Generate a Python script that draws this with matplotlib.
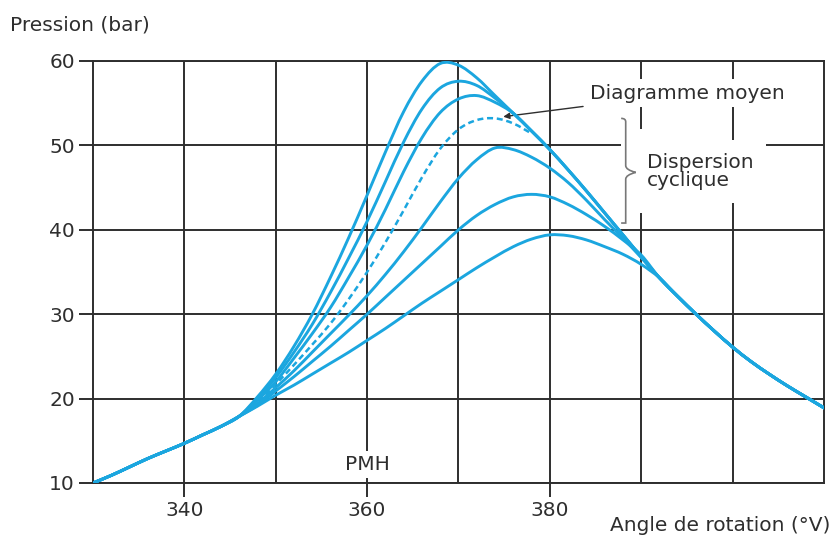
"""Cylinder pressure vs crank angle: cyclic dispersion around the mean diagram."""
import matplotlib
matplotlib.use("Agg")
import matplotlib.pyplot as plt
from matplotlib.path import Path
from matplotlib.patches import PathPatch, Rectangle

plt.rcParams["font.family"] = ["DejaVu Sans"]

# shared compression part (all cycles identical)
rise_x = [330, 332, 334, 336, 338, 340, 342, 344, 346]
rise_y = [10.0, 10.9, 11.9, 12.9, 13.8, 14.7, 15.7, 16.7, 17.9]

# combustion part, one series per cycle
fan_x = [348, 350, 352, 354, 356, 358, 360, 362, 364, 366, 368, 370,
         372, 374, 376, 378, 380, 382, 384, 386, 388, 390]
cycle_1 = [20.2, 22.9, 26.2, 30.0, 34.4, 39.1, 44.1, 49.2, 54.0, 57.6, 59.7, 59.5,
           58.0, 55.9, 53.8, 51.7, 49.5, 47.1, 44.6, 42.0, 39.4, 36.8]
cycle_2 = [20.0, 22.5, 25.5, 28.8, 32.6, 36.7, 41.0, 45.7, 50.4, 54.3, 56.8, 57.6,
           57.1, 55.6, 53.8, 51.7, 49.5, 47.1, 44.6, 42.0, 39.4, 36.8]
cycle_3 = [19.8, 22.0, 24.8, 27.7, 30.8, 34.4, 38.2, 42.4, 46.9, 50.9, 53.9, 55.5,
           55.9, 55.1, 53.8, 51.7, 49.5, 47.1, 44.6, 42.0, 39.4, 36.8]
mean_cycle = [19.6, 21.7, 24.0, 26.4, 28.9, 31.8, 35.0, 38.5, 42.3, 46.2, 49.6, 51.9,
              53.0, 53.2, 52.6, 51.4, 49.5, 47.1, 44.6, 42.0, 39.4, 36.8]
cycle_5 = [19.4, 21.3, 23.3, 25.5, 27.7, 29.9, 32.2, 34.7, 37.4, 40.3, 43.3, 46.1,
           48.3, 49.7, 49.5, 48.6, 47.3, 45.6, 43.5, 41.2, 39.0, 36.7]
cycle_6 = [19.2, 20.9, 22.6, 24.4, 26.2, 28.1, 30.0, 32.0, 34.0, 36.0, 38.0, 40.0,
           41.7, 43.0, 43.9, 44.2, 43.9, 43.0, 41.8, 40.4, 38.8, 37.0]
cycle_7 = [19.1, 20.4, 21.6, 22.9, 24.2, 25.5, 26.9, 28.3, 29.8, 31.3, 32.7, 34.1,
           35.5, 36.8, 38.0, 38.9, 39.4, 39.3, 38.8, 38.0, 37.1, 35.9]

# shared expansion part
fall_x = [392, 394, 396, 398, 400, 402, 404, 406, 408, 410]
fall_y = [34.3, 32.1, 30.0, 28.0, 26.1, 24.4, 22.9, 21.5, 20.2, 18.9]

x_ticks = [340, 360, 380]
x_grid = [350, 370, 390, 400]
y_ticks = [10, 20, 30, 40, 50, 60]

BLUE = "#1ba6df"
INK = "#2e2e2e"
FS = 14.5


def smooth_path(xs, ys):
    """Catmull-Rom through the read points, as cubic Bezier segments."""
    pts = list(zip(xs, ys))
    verts, codes = [pts[0]], [Path.MOVETO]
    for i in range(len(pts) - 1):
        p0 = pts[max(i - 1, 0)]
        p1, p2 = pts[i], pts[i + 1]
        p3 = pts[min(i + 2, len(pts) - 1)]
        c1 = (p1[0] + (p2[0] - p0[0]) / 6, p1[1] + (p2[1] - p0[1]) / 6)
        c2 = (p2[0] - (p3[0] - p1[0]) / 6, p2[1] - (p3[1] - p1[1]) / 6)
        verts += [c1, c2, p2]
        codes += [Path.CURVE4] * 3
    return Path(verts, codes)


fig = plt.figure(figsize=(8.33, 5.35), dpi=100)
ax = fig.add_axes([0.1116, 0.0972, 0.8776, 0.7888])

for ys in [cycle_1, cycle_2, cycle_3, cycle_5, cycle_6, cycle_7]:
    ax.add_patch(PathPatch(smooth_path(rise_x + fan_x + fall_x, rise_y + ys + fall_y),
                           fill=False, edgecolor=BLUE, lw=2.1, zorder=3,
                           capstyle="round", joinstyle="round"))
ax.add_patch(PathPatch(smooth_path(rise_x + fan_x[:16], rise_y + mean_cycle[:16]),
                       fill=False, edgecolor=BLUE, lw=1.8, ls=(0, (2.4, 1.5)),
                       zorder=3))

ax.set_xlim(330, 410)
ax.set_ylim(10, 60)
ax.set_xticks(x_ticks)
ax.set_xticks(x_grid, minor=True)
ax.set_yticks(y_ticks)
ax.grid(which="both", color=INK, lw=1.4)
ax.set_axisbelow(True)
for s in ax.spines.values():
    s.set_color(INK)
    s.set_linewidth(1.4)
ax.tick_params(which="major", length=10, width=1.4, color=INK,
               labelsize=FS, labelcolor=INK, pad=3)
ax.tick_params(which="minor", length=0)

fig.text(0.012, 0.953, "Pression (bar)", fontsize=FS, color=INK, va="center")
fig.text(0.997, 0.018, "Angle de rotation (°V)", fontsize=FS, color=INK,
         ha="right", va="center")

ax.text(360, 12.2, "PMH", fontsize=FS, color=INK, ha="center", va="center",
        bbox=dict(facecolor="white", edgecolor="none", pad=3), zorder=2.5)

ax.annotate("Diagramme moyen", xy=(374.9, 53.4), xytext=(384.4, 56.2),
            fontsize=FS, color=INK, ha="left", va="center",
            bbox=dict(facecolor="white", edgecolor="none", pad=3),
            arrowprops=dict(arrowstyle="-|>", color=INK, lw=1.0,
                            mutation_scale=9, shrinkA=2, shrinkB=0),
            zorder=2.5)

ax.text(390.6, 46.9, "Dispersion\ncyclique", fontsize=FS, color=INK,
        ha="left", va="center", linespacing=0.95,
        bbox=dict(facecolor="white", edgecolor="none", pad=9), zorder=2.5)

# white backing behind the brace so the grid stops there, as in the original
ax.add_patch(Rectangle((387.8, 42.0), 3.0, 10.0, facecolor="white",
                       edgecolor="none", zorder=2.4))

# curly brace for the dispersion range
bx, tip = 388.3, 389.4
top, mid, bot = 53.2, 46.8, 40.8
verts = [(bx - 0.5, top), (bx, top), (bx, top - 0.4), (bx, top - 1.0),
         (bx, mid + 0.8), (bx, mid + 0.3), (tip, mid),
         (bx, mid - 0.3), (bx, mid - 0.8), (bx, bot + 1.0),
         (bx, bot + 0.4), (bx, bot), (bx - 0.5, bot)]
codes = [Path.MOVETO, Path.CURVE3, Path.CURVE3, Path.LINETO,
         Path.LINETO, Path.CURVE3, Path.CURVE3,
         Path.CURVE3, Path.CURVE3, Path.LINETO,
         Path.CURVE3, Path.CURVE3, Path.LINETO]
ax.add_patch(PathPatch(Path(verts, codes), fill=False, edgecolor="#777777",
                       lw=1.2, zorder=2.6))

fig.savefig("out.png", dpi=100)
